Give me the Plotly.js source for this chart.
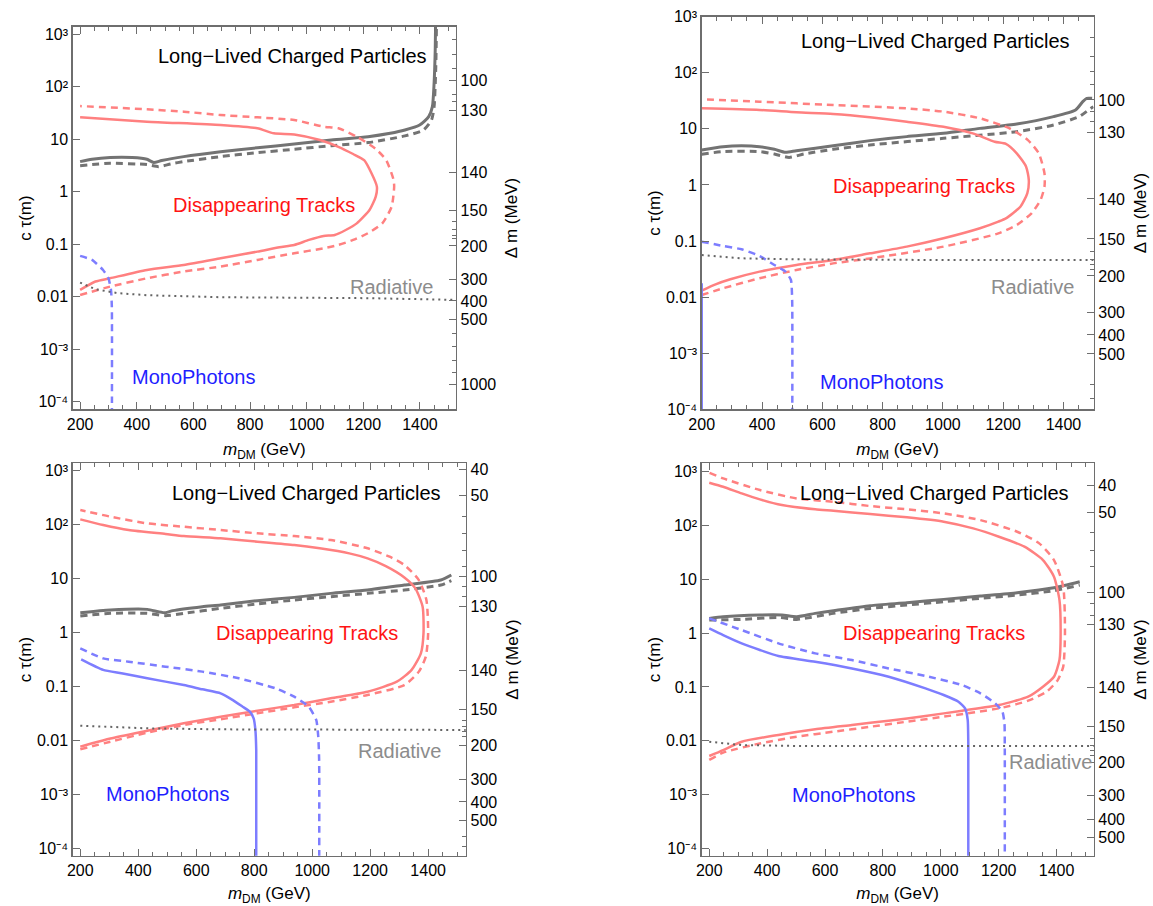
<!DOCTYPE html>
<html>
<head>
<meta charset="utf-8">
<script src="https://cdn.plot.ly/plotly-3.0.1.min.js"></script>
<style>html,body{margin:0;padding:0;background:#fff}#chart{width:1153px;height:906px}</style>
</head>
<body>
<div id="chart"></div>
<script>
// ---------- Panel A (top-left) ----------
const A_dtSolid_x = [200,254,306,436,566,696,826,904,956,1008,1060,1099,1138,1177,1222,1244,1248,1229,1203,1164,1112,1047,956,884,826,696,436,200];
const A_dtSolid_y = [0.0135,0.0195,0.0225,0.0324,0.0404,0.054,0.0724,0.0877,0.097,0.121,0.144,0.15,0.187,0.25,0.45,0.81,1.25,2.25,4.0,5.25,7.2,9.7,12.4,13,16.2,18.7,21.7,26.2];
const A_dtDash_x = [200,306,436,566,696,826,956,1060,1112,1164,1216,1267,1300,1309,1307,1281,1242,1177,1112,1060,956,826,696,566,436,200];
const A_dtDash_y = [0.0108,0.0156,0.0225,0.0302,0.0376,0.0503,0.0674,0.084,0.097,0.121,0.162,0.25,0.52,1.25,1.68,4.0,6.7,11.2,16.2,17.4,23.3,26.2,29,33.6,37.3,43];
const A_llSolid_x = [200,242,306,384,436,460,488,566,696,826,956,1087,1217,1295,1347,1399,1431,1444,1450,1454,1456];
const A_llSolid_y = [3.76,4.16,4.48,4.48,4.16,3.6,3.93,4.68,5.8,6.9,8.1,9.7,11.2,13,15,18.7,27,41.9,117,501,3000];
const A_llDash_x = [200,306,436,477,520,566,696,826,956,1087,1217,1347,1412,1441,1450,1456,1459];
const A_llDash_y = [3.15,3.49,3.3,3.01,3.4,3.76,4.68,5.57,6.45,7.57,8.65,11.6,15,23.3,41.9,242,3000];
const A_mpDash_x = [200,242,281,300,309,312,312];
const A_mpDash_y = [0.06,0.0503,0.0324,0.0225,0.0135,0.0065,0.00001];
const A_rad_x = [200,254,333,436,696,1217,1530];
const A_rad_y = [0.0186,0.0139,0.0117,0.0107,0.0098,0.0094,0.0087];

// ---------- Panel B (top-right) ----------
const B_dtSolid_x = [200,246,295,392,514,636,758,880,1002,1123,1184,1209,1257,1280,1285,1276,1245,1209,1172,1099,1002,880,758,636,514,392,200];
const B_dtSolid_y = [0.0131,0.0169,0.0208,0.0285,0.0374,0.046,0.0604,0.0795,0.112,0.169,0.222,0.254,0.41,0.71,1.22,2.12,3.66,5.4,5.9,8.3,10.9,13.4,16.1,18.4,19.7,21.7,23.2];
const B_dtDash_x = [200,271,392,514,636,758,1002,1184,1245,1294,1324,1337,1337,1318,1282,1221,1123,1002,880,636,392,200];
const B_dtDash_y = [0.0109,0.0144,0.0217,0.0305,0.04,0.049,0.0795,0.137,0.193,0.312,0.54,0.93,1.61,3.66,6.3,10.2,15.4,20.3,23.2,26.6,30.5,33.6];
const B_llSolid_x = [200,271,332,392,441,478,514,636,758,880,1002,1123,1245,1367,1440,1464,1477,1495];
const B_llSolid_y = [4.2,4.82,5.0,4.82,4.32,3.82,4.08,5.0,6.17,7.27,8.32,10.2,12.2,16.5,21.7,30.6,35,35];
const B_llDash_x = [200,271,392,441,490,539,636,758,1002,1245,1367,1452,1483,1499];
const B_llDash_y = [3.52,3.93,3.93,3.56,3.1,3.56,4.32,5.15,6.78,8.9,11.7,16.5,21.7,24.9];
const B_mpDash_x = [200,271,332,392,441,478,496,500,500];
const B_mpDash_y = [0.0975,0.0817,0.0713,0.0542,0.0374,0.0285,0.0202,0.0089,0.00001];
const B_mpSolid_x = [200,200];
const B_mpSolid_y = [0.0177,0.00001];
const B_rad_x = [200,332,514,1002,1500];
const B_rad_y = [0.0565,0.0492,0.0472,0.0459,0.046];

// ---------- Panel C (bottom-left) ----------
const C_dtSolid_x = [200,241,304,431,557,684,811,938,1064,1191,1292,1343,1375,1384,1381,1356,1318,1254,1191,1128,1026,938,811,684,557,494,367,279,200];
const C_dtSolid_y = [0.0076,0.0088,0.0108,0.015,0.0206,0.0273,0.0352,0.0449,0.0596,0.079,0.121,0.2,0.405,0.95,2.96,6.46,10.3,16.7,23.2,28.7,35.6,41,47.2,54.4,60,65.5,77.6,96,122];
const C_dtDash_x = [200,304,431,557,684,811,938,1064,1191,1318,1368,1392,1400,1394,1368,1318,1267,1191,1064,938,811,684,557,431,304,200];
const C_dtDash_y = [0.0068,0.0094,0.0138,0.0191,0.0244,0.0315,0.0406,0.0517,0.0688,0.105,0.186,0.352,0.95,3.94,9.2,17.5,24.9,35.6,50.7,60,67.3,77.6,89.3,103,137,182];
const C_llSolid_x = [200,304,431,469,494,519,621,684,811,938,1064,1191,1318,1444,1480];
const C_llSolid_y = [2.29,2.57,2.64,2.39,2.29,2.5,2.96,3.18,3.82,4.4,5.22,6.03,7.45,9.22,11.4];
const C_llDash_x = [200,304,431,494,557,684,811,938,1064,1191,1318,1444,1480];
const C_llDash_y = [1.99,2.23,2.23,2.02,2.23,2.76,3.32,3.94,4.53,5.22,6.03,7.45,8.96];
const C_mpSolid_x = [203,279,342,431,557,621,684,722,760,785,798,804,807,807];
const C_mpSolid_y = [0.314,0.2,0.173,0.14,0.105,0.0875,0.0738,0.0571,0.0418,0.0338,0.0254,0.0155,0.0066,0.00001];
const C_mpDash_x = [200,279,367,494,621,747,874,938,988,1014,1021,1024,1024];
const C_mpDash_y = [0.501,0.327,0.284,0.23,0.186,0.14,0.0912,0.064,0.0418,0.0237,0.0116,0.0043,0.00001];
const C_rad_x = [200,431,684,1191,1530];
const C_rad_y = [0.0186,0.0166,0.0159,0.0155,0.0155];

// ---------- Panel D (bottom-right) ----------
const D_dtSolid_x = [200,248,312,439,566,693,820,947,1074,1201,1302,1353,1391,1410,1414,1410,1391,1353,1289,1201,1112,1010,883,756,629,566,451,375,312,248,200];
const D_dtSolid_y = [0.0052,0.0067,0.0096,0.0128,0.0163,0.0196,0.0236,0.0288,0.0362,0.0461,0.0659,0.101,0.155,0.316,0.99,4.12,11.2,22.8,40.4,62,88.5,118,142,163,188,200,240,306,396,526,625];
const D_dtDash_x = [200,248,375,502,629,756,883,1010,1201,1302,1366,1404,1423,1429,1423,1391,1340,1264,1137,1010,883,756,629,502,375,248,200];
const D_dtDash_y = [0.0044,0.006,0.0089,0.0119,0.0147,0.0182,0.0226,0.028,0.04,0.0555,0.0817,0.134,0.238,0.99,7.3,22.8,46.6,76.7,126,168,200,230,277,319,456,752,958];
const D_llSolid_x = [200,248,375,451,502,566,629,756,883,1010,1137,1264,1391,1480];
const D_llSolid_y = [1.88,2.02,2.17,2.17,2.02,2.33,2.61,3.24,3.68,4.24,4.89,5.64,6.98,9.03];
const D_llDash_x = [200,312,439,502,629,756,883,1010,1137,1264,1391,1480];
const D_llDash_y = [1.75,1.8,1.96,1.8,2.33,2.88,3.33,3.84,4.43,5.1,6.15,7.84];
const D_mpSolid_x = [200,248,312,375,439,566,693,820,947,1010,1061,1084,1093,1095,1095];
const D_mpSolid_y = [1.23,0.923,0.646,0.486,0.375,0.294,0.221,0.155,0.094,0.0708,0.0532,0.04,0.0243,0.0089,0.00001];
const D_mpDash_x = [200,312,439,566,693,820,947,1074,1137,1188,1213,1220,1221,1221];
const D_mpDash_y = [1.88,1.14,0.646,0.421,0.316,0.221,0.16,0.108,0.076,0.0496,0.0347,0.021,0.0089,0.00001];
const D_rad_x = [200,312,502,1010,1530];
const D_rad_y = [0.0096,0.0083,0.008,0.008,0.008];

// ---------- Axis ticks ----------
const xTickVals = [200,400,600,800,1000,1200,1400];
const ctauTickVals = [1e-4,1e-3,0.01,0.1,1,10,100,1000];
const ctauTickText = ['10⁻⁴','10⁻³','0.01','0.1','1','10','10²','10³'];

// right axis: Delta m labels and their positions as log10(c tau)
const A_dm_labels = ['100','130','140','150','200','300','400','500','1000'];
const A_dm_log = [2.124,1.552,0.366,-0.352,-1.032,-1.667,-2.080,-2.434,-3.667];
const A_dm_minorLog = [2.899,2.619,2.347,1.851,1.724,-0.562,-0.720,-0.829,-0.899,-2.70,-2.956,-3.21,-3.444];
const B_dm_labels = ['100','130','140','150','200','300','400','500'];
const B_dm_log = [1.515,0.939,-0.250,-0.963,-1.622,-2.269,-2.674,-3.012];
const B_dm_minorLog = [2.633,2.287,2.020,1.783,1.307,1.128,-1.189,-1.337,-1.426,-1.503,-3.565,-3.802];
const C_dm_labels = ['40','50','100','130','140','150','200','300','400','500'];
const C_dm_log = [3.01,2.537,1.037,0.469,-0.704,-1.431,-2.093,-2.728,-3.143,-3.481];
const C_dm_minorLog = [2.136,1.827,1.519,1.222,0.84,0.654,-1.63,-1.753,-1.846,-1.938,-3.778,-3.975];
const D_dm_labels = ['40','50','100','130','140','150','200','300','400','500'];
const D_dm_log = [2.753,2.245,0.751,0.169,-1.015,-1.740,-2.409,-3.009,-3.455,-3.803];
const D_dm_minorLog = [1.866,1.545,1.234,0.554,0.336,-1.955,-2.080,-2.173,-2.266];

// region labels: [x (GeV), log10 c tau]
const A_labelPos = {ll:[950,2.587], dt:[849,-0.251], rad:[1300,-1.806], mp:[599,-3.52]};
const B_labelPos = {ll:[977,2.572], dt:[938,-0.018], rad:[1298,-1.825], mp:[798,-3.518]};
const C_labelPos = {ll:[982,2.568], dt:[982,-0.022], rad:[1301,-2.2], mp:[500,-3.0]};
const D_labelPos = {ll:[978,2.597], dt:[978,-0.004], rad:[1378,-2.402], mp:[699,-3.009]};

// ---------- styling ----------
const FONT = 'Liberation Sans, Arial, sans-serif';
const RED = 'rgb(255,128,128)';
const GRAY = 'rgb(115,115,115)';
const BLUE = 'rgb(125,125,255)';
const FRAME = 'rgb(110,110,110)';
const DASH = '7px,5px';

const panels = [
  {n:'A', xa:'x',  ya:'y',  yb:'y2', xr:[174,1527], yr:[-4.145,3.145], xd:[0.0631,0.3954], yd:[0.5482,0.9705],
   dt:[A_dtSolid_x,A_dtSolid_y], dtd:[A_dtDash_x,A_dtDash_y], ll:[A_llSolid_x,A_llSolid_y], lld:[A_llDash_x,A_llDash_y],
   mp:null, mpd:[A_mpDash_x,A_mpDash_y], rad:[A_rad_x,A_rad_y], dm:[A_dm_labels,A_dm_log,A_dm_minorLog], lab:A_labelPos},
  {n:'B', xa:'x2', ya:'y3', yb:'y4', xr:[200,1500], yr:[-4,3], xd:[0.6086,0.9485], yd:[0.5482,0.9816],
   dt:[B_dtSolid_x,B_dtSolid_y], dtd:[B_dtDash_x,B_dtDash_y], ll:[B_llSolid_x,B_llSolid_y], lld:[B_llDash_x,B_llDash_y],
   mp:[B_mpSolid_x,B_mpSolid_y], mpd:[B_mpDash_x,B_mpDash_y], rad:[B_rad_x,B_rad_y], dm:[B_dm_labels,B_dm_log,B_dm_minorLog], lab:B_labelPos},
  {n:'C', xa:'x3', ya:'y5', yb:'y6', xr:[174,1530], yr:[-4.137,3.124], xd:[0.0631,0.4040], yd:[0.0555,0.4886],
   dt:[C_dtSolid_x,C_dtSolid_y], dtd:[C_dtDash_x,C_dtDash_y], ll:[C_llSolid_x,C_llSolid_y], lld:[C_llDash_x,C_llDash_y],
   mp:[C_mpSolid_x,C_mpSolid_y], mpd:[C_mpDash_x,C_mpDash_y], rad:[C_rad_x,C_rad_y], dm:[C_dm_labels,C_dm_log,C_dm_minorLog], lab:C_labelPos},
  {n:'D', xa:'x4', ya:'y7', yb:'y8', xr:[174,1528], yr:[-4.137,3.156], xd:[0.6086,0.9485], yd:[0.0555,0.4886],
   dt:[D_dtSolid_x,D_dtSolid_y], dtd:[D_dtDash_x,D_dtDash_y], ll:[D_llSolid_x,D_llSolid_y], lld:[D_llDash_x,D_llDash_y],
   mp:[D_mpSolid_x,D_mpSolid_y], mpd:[D_mpDash_x,D_mpDash_y], rad:[D_rad_x,D_rad_y], dm:[D_dm_labels,D_dm_log,D_dm_minorLog], lab:D_labelPos}
];

const traces = [];
const layout = {
  width:1153, height:906, margin:{l:0,r:0,t:0,b:0}, showlegend:false,
  paper_bgcolor:'#fff', plot_bgcolor:'rgba(0,0,0,0)',
  font:{family:FONT, size:16, color:'#000'}, annotations:[]
};

function axName(id){ return id.replace(/^([xy])(\d*)$/, (m,a,b)=> a+'axis'+b); }

panels.forEach(p => {
  const add = (d, color, width, dash, yref, shape, sm) => {
    if (!d) return;
    traces.push({x:d[0], y:d[1], xaxis:p.xa, yaxis:yref||p.ya, mode:'lines', hoverinfo:'skip',
      line:{color:color, width:width, dash:dash||'solid', shape:shape||'spline', smoothing:sm||0.6}});
  };
  add(p.rad, 'rgb(100,100,100)', 2, '2px,4px', p.yb, 'linear');
  add(p.ll,  GRAY, 3);
  add(p.lld, GRAY, 3, DASH);
  add(p.dt,  RED, 2.5);
  add(p.dtd, RED, 2.5, DASH);
  add(p.mp,  BLUE, 2.5, 'solid', null, 'spline', 0.5);
  add(p.mpd, BLUE, 2.5, DASH, null, 'spline', 0.5);

  const common = {showgrid:false, zeroline:false, showline:true, linecolor:FRAME, linewidth:1.5,
    tickcolor:FRAME, tickwidth:1, ticks:'inside', tickfont:{family:FONT, size:16, color:'#000'}};
  const tfont = {family:FONT, size:17, color:'#000'};

  layout[axName(p.xa)] = Object.assign({}, common, {
    domain:p.xd, range:p.xr, anchor:p.ya, mirror:'ticks', ticklen:7,
    tickmode:'array', tickvals:xTickVals,
    minor:{tickmode:'linear', tick0:0, dtick:50, ticks:'inside', ticklen:4, tickcolor:FRAME},
    title:{text:'<i>m</i><sub>DM</sub> (GeV)', font:tfont, standoff:11}
  });
  layout[axName(p.ya)] = Object.assign({}, common, {
    domain:p.yd, range:p.yr, type:'log', anchor:p.xa, ticklen:7,
    tickmode:'array', tickvals:ctauTickVals, ticktext:ctauTickText,
    title:{text:'c τ(m)', font:tfont, standoff:1}
  });
  layout[axName(p.yb)] = Object.assign({}, common, {
    overlaying:p.ya, anchor:p.xa, side:'right', range:p.yr, type:'log', ticklen:7,
    tickmode:'array', tickvals:p.dm[1].map(v=>Math.pow(10,v)), ticktext:p.dm[0],
    minor:{tickmode:'array', tickvals:p.dm[2].map(v=>Math.pow(10,v)), ticks:'inside', ticklen:4, tickcolor:FRAME},
    title:{text:'Δ m (MeV)', font:tfont, standoff:10}
  });

  const ann = (pos, text, color) => layout.annotations.push({xref:p.xa, yref:p.ya, x:pos[0], y:pos[1],
    text:text, showarrow:false, font:{family:FONT, size:20, color:color}, xanchor:'center', yanchor:'middle'});
  ann(p.lab.ll, 'Long−Lived Charged Particles', '#000');
  ann(p.lab.dt, 'Disappearing Tracks', 'rgb(255,20,20)');
  ann(p.lab.rad, 'Radiative', 'rgb(140,140,140)');
  ann(p.lab.mp, 'MonoPhotons', 'rgb(30,30,255)');
});

Plotly.newPlot('chart', traces, layout, {staticPlot:true, displayModeBar:false});
</script>
</body>
</html>
